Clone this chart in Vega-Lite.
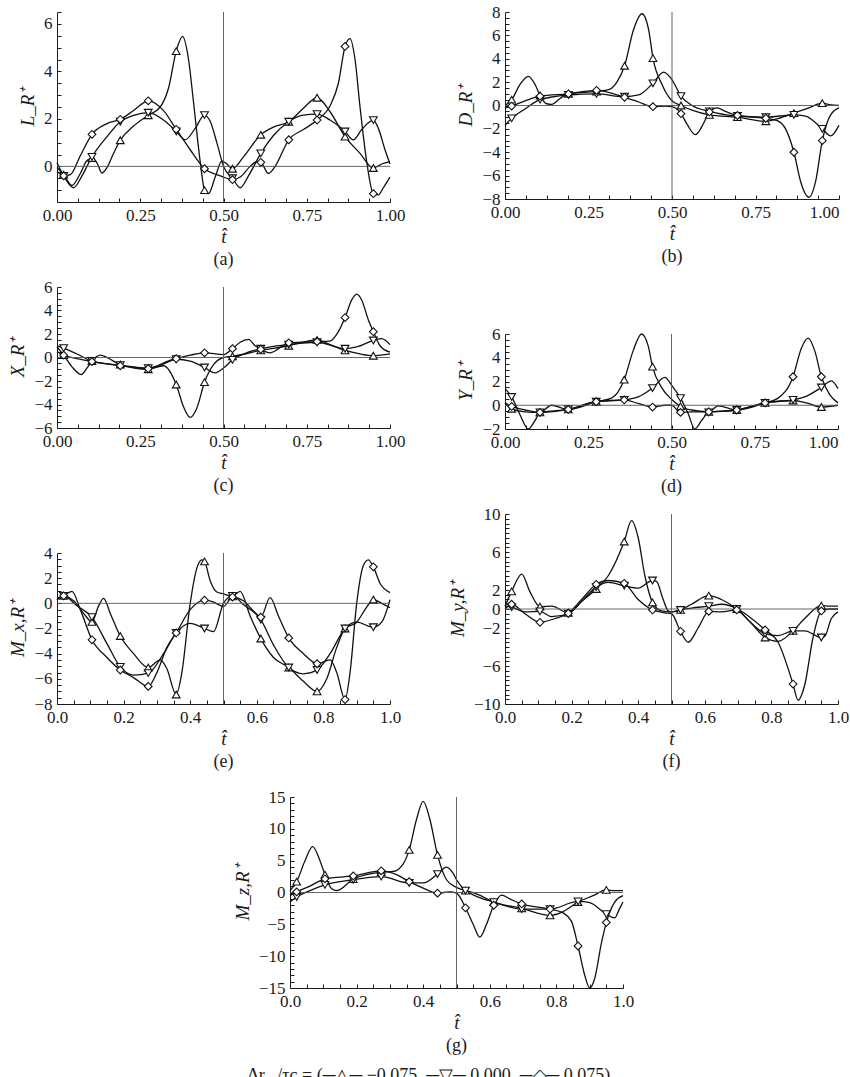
{
"$schema": "https://vega.github.io/schema/vega-lite/v6.json",
"padding": {"left": 8, "top": 3, "right": 0, "bottom": 0},
"columns": 2,
"bounds": "flush",
"spacing": {"row": 85, "column": 115},
"title": {"text": "Δr₁₂/τc = (─△─ −0.075, ─▽─ 0.000, ─◇─ 0.075)", "orient": "bottom", "anchor": "middle", "offset": 12, "fontSize": 18},
"datasets": {
"a": [
{"s":"m","t":0,"v":-0.05},{"s":"m","t":0.02,"v":-0.35,"k":1},{"s":"m","t":0.045,"v":-0.8},{"s":"m","t":0.07,"v":-0.3},{"s":"m","t":0.09,"v":0.25},{"s":"m","t":0.105,"v":0.35,"k":1},{"s":"m","t":0.12,"v":0.15},{"s":"m","t":0.135,"v":-0.28},{"s":"m","t":0.15,"v":-0.05},{"s":"m","t":0.17,"v":0.55},{"s":"m","t":0.19,"v":1.1,"k":1},{"s":"m","t":0.23,"v":1.7},{"s":"m","t":0.274,"v":2.15,"k":1},{"s":"m","t":0.31,"v":2.5},{"s":"m","t":0.335,"v":3.3},{"s":"m","t":0.358,"v":4.85,"k":1},{"s":"m","t":0.377,"v":5.47},{"s":"m","t":0.395,"v":4.5},{"s":"m","t":0.41,"v":2.7},{"s":"m","t":0.43,"v":0.2},{"s":"m","t":0.443,"v":-1.0,"k":1},{"s":"m","t":0.455,"v":-1.15},{"s":"m","t":0.475,"v":-0.45},{"s":"m","t":0.495,"v":0.22},{"s":"m","t":0.51,"v":0.1},{"s":"m","t":0.527,"v":-0.1,"k":1},{"s":"m","t":0.56,"v":0.4},{"s":"m","t":0.612,"v":1.33,"k":1},{"s":"m","t":0.65,"v":1.65},{"s":"m","t":0.696,"v":1.88,"k":1},{"s":"m","t":0.74,"v":2.45},{"s":"m","t":0.781,"v":2.89,"k":1},{"s":"m","t":0.82,"v":2.3},{"s":"m","t":0.865,"v":1.25,"k":1},{"s":"m","t":0.91,"v":0.55},{"s":"m","t":0.95,"v":-0.07,"k":1},{"s":"m","t":0.975,"v":0.1},{"s":"m","t":1,"v":0.2},
{"s":"z","t":0,"v":0.15},{"s":"z","t":0.02,"v":-0.4,"k":1},{"s":"z","t":0.05,"v":-0.9},{"s":"z","t":0.075,"v":-0.4},{"s":"z","t":0.105,"v":0.4,"k":1},{"s":"z","t":0.15,"v":1.25},{"s":"z","t":0.19,"v":1.88,"k":1},{"s":"z","t":0.23,"v":2.15},{"s":"z","t":0.274,"v":2.26,"k":1},{"s":"z","t":0.32,"v":1.95},{"s":"z","t":0.358,"v":1.47,"k":1},{"s":"z","t":0.385,"v":1.12},{"s":"z","t":0.415,"v":1.6},{"s":"z","t":0.443,"v":2.16,"k":1},{"s":"z","t":0.46,"v":1.9},{"s":"z","t":0.48,"v":1.0},{"s":"z","t":0.5,"v":0.0},{"s":"z","t":0.527,"v":-0.5,"k":1},{"s":"z","t":0.55,"v":-0.9},{"s":"z","t":0.575,"v":-0.4},{"s":"z","t":0.612,"v":0.55,"k":1},{"s":"z","t":0.65,"v":1.3},{"s":"z","t":0.696,"v":1.88,"k":1},{"s":"z","t":0.735,"v":2.15},{"s":"z","t":0.781,"v":2.2,"k":1},{"s":"z","t":0.82,"v":1.95},{"s":"z","t":0.865,"v":1.47,"k":1},{"s":"z","t":0.89,"v":1.12},{"s":"z","t":0.915,"v":1.55},{"s":"z","t":0.95,"v":1.95,"k":1},{"s":"z","t":0.965,"v":1.6},{"s":"z","t":0.985,"v":0.7},{"s":"z","t":1,"v":0.1},
{"s":"p","t":0,"v":-0.2},{"s":"p","t":0.02,"v":-0.4,"k":1},{"s":"p","t":0.04,"v":-0.35},{"s":"p","t":0.07,"v":0.45},{"s":"p","t":0.105,"v":1.35,"k":1},{"s":"p","t":0.15,"v":1.8},{"s":"p","t":0.19,"v":1.98,"k":1},{"s":"p","t":0.23,"v":2.35},{"s":"p","t":0.274,"v":2.76,"k":1},{"s":"p","t":0.32,"v":2.35},{"s":"p","t":0.358,"v":1.56,"k":1},{"s":"p","t":0.4,"v":0.7},{"s":"p","t":0.443,"v":-0.1,"k":1},{"s":"p","t":0.48,"v":-0.35},{"s":"p","t":0.5,"v":-0.45},{"s":"p","t":0.527,"v":-0.56,"k":1},{"s":"p","t":0.55,"v":-0.45},{"s":"p","t":0.58,"v":0.0},{"s":"p","t":0.6,"v":0.2},{"s":"p","t":0.612,"v":0.17,"k":1},{"s":"p","t":0.635,"v":-0.3},{"s":"p","t":0.655,"v":0.0},{"s":"p","t":0.696,"v":1.12,"k":1},{"s":"p","t":0.74,"v":1.55},{"s":"p","t":0.781,"v":1.95,"k":1},{"s":"p","t":0.82,"v":2.55},{"s":"p","t":0.845,"v":3.5},{"s":"p","t":0.865,"v":5.05,"k":1},{"s":"p","t":0.88,"v":5.38},{"s":"p","t":0.895,"v":4.5},{"s":"p","t":0.91,"v":2.5},{"s":"p","t":0.93,"v":0.2},{"s":"p","t":0.95,"v":-1.15,"k":1},{"s":"p","t":0.965,"v":-1.2},{"s":"p","t":0.98,"v":-0.9},{"s":"p","t":1,"v":-0.45}
],
"b": [
{"s":"m","t":0,"v":0.0},{"s":"m","t":0.02,"v":0.5,"k":1},{"s":"m","t":0.045,"v":1.8},{"s":"m","t":0.07,"v":2.5},{"s":"m","t":0.09,"v":1.8},{"s":"m","t":0.105,"v":0.85,"k":1},{"s":"m","t":0.125,"v":0.15},{"s":"m","t":0.14,"v":0.1},{"s":"m","t":0.165,"v":0.6},{"s":"m","t":0.19,"v":1.0,"k":1},{"s":"m","t":0.274,"v":1.2,"k":1},{"s":"m","t":0.31,"v":1.35},{"s":"m","t":0.335,"v":2.0},{"s":"m","t":0.358,"v":3.4,"k":1},{"s":"m","t":0.385,"v":6.5},{"s":"m","t":0.41,"v":7.85},{"s":"m","t":0.43,"v":6.5},{"s":"m","t":0.443,"v":4.05,"k":1},{"s":"m","t":0.47,"v":1.8},{"s":"m","t":0.5,"v":0.4},{"s":"m","t":0.527,"v":0.0,"k":1},{"s":"m","t":0.56,"v":-0.4},{"s":"m","t":0.612,"v":-0.8,"k":1},{"s":"m","t":0.696,"v":-1.0,"k":1},{"s":"m","t":0.781,"v":-1.35,"k":1},{"s":"m","t":0.82,"v":-1.1},{"s":"m","t":0.865,"v":-0.65,"k":1},{"s":"m","t":0.91,"v":-0.2},{"s":"m","t":0.95,"v":0.2,"k":1},{"s":"m","t":0.975,"v":0.05},{"s":"m","t":1,"v":0.0},
{"s":"z","t":0,"v":-1.7},{"s":"z","t":0.02,"v":-1.1,"k":1},{"s":"z","t":0.06,"v":-0.3},{"s":"z","t":0.105,"v":0.5,"k":1},{"s":"z","t":0.19,"v":0.9,"k":1},{"s":"z","t":0.274,"v":1.0,"k":1},{"s":"z","t":0.358,"v":0.75,"k":1},{"s":"z","t":0.4,"v":0.9},{"s":"z","t":0.443,"v":1.9,"k":1},{"s":"z","t":0.475,"v":2.85},{"s":"z","t":0.5,"v":2.2},{"s":"z","t":0.527,"v":0.8,"k":1},{"s":"z","t":0.56,"v":0.0},{"s":"z","t":0.612,"v":-0.5,"k":1},{"s":"z","t":0.696,"v":-0.9,"k":1},{"s":"z","t":0.781,"v":-1.0,"k":1},{"s":"z","t":0.865,"v":-0.8,"k":1},{"s":"z","t":0.9,"v":-0.9},{"s":"z","t":0.95,"v":-2.0,"k":1},{"s":"z","t":0.975,"v":-2.6},{"s":"z","t":1,"v":-1.7},
{"s":"p","t":0,"v":-0.2},{"s":"p","t":0.02,"v":-0.05,"k":1},{"s":"p","t":0.06,"v":0.4},{"s":"p","t":0.105,"v":0.8,"k":1},{"s":"p","t":0.19,"v":1.0,"k":1},{"s":"p","t":0.274,"v":1.3,"k":1},{"s":"p","t":0.358,"v":0.7,"k":1},{"s":"p","t":0.4,"v":0.3},{"s":"p","t":0.443,"v":-0.1,"k":1},{"s":"p","t":0.48,"v":-0.05},{"s":"p","t":0.5,"v":-0.1},{"s":"p","t":0.527,"v":-0.7,"k":1},{"s":"p","t":0.545,"v":-1.6},{"s":"p","t":0.57,"v":-2.5},{"s":"p","t":0.595,"v":-1.5},{"s":"p","t":0.612,"v":-0.55,"k":1},{"s":"p","t":0.635,"v":-0.2},{"s":"p","t":0.66,"v":-0.5},{"s":"p","t":0.696,"v":-0.85,"k":1},{"s":"p","t":0.781,"v":-1.1,"k":1},{"s":"p","t":0.815,"v":-1.3},{"s":"p","t":0.84,"v":-2.0},{"s":"p","t":0.865,"v":-4.0,"k":1},{"s":"p","t":0.885,"v":-6.5},{"s":"p","t":0.91,"v":-7.85},{"s":"p","t":0.93,"v":-6.5},{"s":"p","t":0.95,"v":-3.0,"k":1},{"s":"p","t":0.975,"v":-0.8},{"s":"p","t":1,"v":-0.2}
],
"c": [
{"s":"m","t":0,"v":0.9},{"s":"m","t":0.02,"v":0.2,"k":1},{"s":"m","t":0.045,"v":-0.8},{"s":"m","t":0.073,"v":-1.45},{"s":"m","t":0.09,"v":-0.9},{"s":"m","t":0.105,"v":-0.3,"k":1},{"s":"m","t":0.13,"v":0.2},{"s":"m","t":0.15,"v":0.0},{"s":"m","t":0.19,"v":-0.6,"k":1},{"s":"m","t":0.274,"v":-1.0,"k":1},{"s":"m","t":0.32,"v":-0.7},{"s":"m","t":0.358,"v":-2.3,"k":1},{"s":"m","t":0.38,"v":-4.2},{"s":"m","t":0.4,"v":-5.1},{"s":"m","t":0.42,"v":-4.3},{"s":"m","t":0.443,"v":-2.1,"k":1},{"s":"m","t":0.47,"v":-0.6},{"s":"m","t":0.5,"v":0.0},{"s":"m","t":0.527,"v":0.1,"k":1},{"s":"m","t":0.612,"v":0.6,"k":1},{"s":"m","t":0.696,"v":1.0,"k":1},{"s":"m","t":0.781,"v":1.5,"k":1},{"s":"m","t":0.82,"v":1.1},{"s":"m","t":0.865,"v":0.6,"k":1},{"s":"m","t":0.91,"v":0.3},{"s":"m","t":0.95,"v":0.15,"k":1},{"s":"m","t":1,"v":0.3},
{"s":"z","t":0,"v":1.0},{"s":"z","t":0.02,"v":0.8,"k":1},{"s":"z","t":0.06,"v":0.3},{"s":"z","t":0.105,"v":-0.3,"k":1},{"s":"z","t":0.19,"v":-0.65,"k":1},{"s":"z","t":0.274,"v":-0.9,"k":1},{"s":"z","t":0.358,"v":-0.15,"k":1},{"s":"z","t":0.4,"v":-0.3},{"s":"z","t":0.443,"v":-0.85,"k":1},{"s":"z","t":0.475,"v":-1.3},{"s":"z","t":0.5,"v":-0.9},{"s":"z","t":0.527,"v":-0.2,"k":1},{"s":"z","t":0.56,"v":0.3},{"s":"z","t":0.612,"v":0.75,"k":1},{"s":"z","t":0.696,"v":1.1,"k":1},{"s":"z","t":0.781,"v":1.3,"k":1},{"s":"z","t":0.865,"v":0.75,"k":1},{"s":"z","t":0.9,"v":0.9},{"s":"z","t":0.95,"v":1.45,"k":1},{"s":"z","t":0.975,"v":1.6},{"s":"z","t":1,"v":1.1},
{"s":"p","t":0,"v":0.5},{"s":"p","t":0.02,"v":0.2,"k":1},{"s":"p","t":0.06,"v":-0.1},{"s":"p","t":0.105,"v":-0.35,"k":1},{"s":"p","t":0.19,"v":-0.7,"k":1},{"s":"p","t":0.274,"v":-0.95,"k":1},{"s":"p","t":0.358,"v":-0.1,"k":1},{"s":"p","t":0.4,"v":0.2},{"s":"p","t":0.443,"v":0.4,"k":1},{"s":"p","t":0.5,"v":0.25},{"s":"p","t":0.527,"v":0.75,"k":1},{"s":"p","t":0.55,"v":1.3},{"s":"p","t":0.575,"v":1.55},{"s":"p","t":0.595,"v":1.0},{"s":"p","t":0.612,"v":0.7,"k":1},{"s":"p","t":0.64,"v":0.4},{"s":"p","t":0.696,"v":1.25,"k":1},{"s":"p","t":0.781,"v":1.35,"k":1},{"s":"p","t":0.82,"v":1.4},{"s":"p","t":0.845,"v":2.2},{"s":"p","t":0.865,"v":3.4,"k":1},{"s":"p","t":0.885,"v":4.9},{"s":"p","t":0.9,"v":5.4},{"s":"p","t":0.915,"v":4.9},{"s":"p","t":0.935,"v":3.2},{"s":"p","t":0.95,"v":2.2,"k":1},{"s":"p","t":0.97,"v":1.0},{"s":"p","t":1,"v":0.45}
],
"d": [
{"s":"m","t":0,"v":0.2},{"s":"m","t":0.02,"v":-0.3,"k":1},{"s":"m","t":0.06,"v":-0.55},{"s":"m","t":0.105,"v":-0.6,"k":1},{"s":"m","t":0.14,"v":0.0},{"s":"m","t":0.19,"v":-0.35,"k":1},{"s":"m","t":0.274,"v":0.3,"k":1},{"s":"m","t":0.32,"v":0.6},{"s":"m","t":0.358,"v":2.15,"k":1},{"s":"m","t":0.385,"v":4.6},{"s":"m","t":0.41,"v":6.0},{"s":"m","t":0.43,"v":5.0},{"s":"m","t":0.443,"v":3.25,"k":1},{"s":"m","t":0.47,"v":1.5},{"s":"m","t":0.5,"v":0.5},{"s":"m","t":0.527,"v":-0.1,"k":1},{"s":"m","t":0.56,"v":-0.4},{"s":"m","t":0.612,"v":-0.55,"k":1},{"s":"m","t":0.696,"v":-0.4,"k":1},{"s":"m","t":0.781,"v":0.2,"k":1},{"s":"m","t":0.865,"v":0.4,"k":1},{"s":"m","t":0.91,"v":0.15},{"s":"m","t":0.95,"v":-0.15,"k":1},{"s":"m","t":1,"v":0.0},
{"s":"z","t":0,"v":1.4},{"s":"z","t":0.02,"v":0.7,"k":1},{"s":"z","t":0.045,"v":-0.8},{"s":"z","t":0.07,"v":-2.0},{"s":"z","t":0.09,"v":-1.3},{"s":"z","t":0.105,"v":-0.6,"k":1},{"s":"z","t":0.19,"v":-0.35,"k":1},{"s":"z","t":0.274,"v":0.3,"k":1},{"s":"z","t":0.358,"v":0.45,"k":1},{"s":"z","t":0.4,"v":0.7},{"s":"z","t":0.443,"v":1.45,"k":1},{"s":"z","t":0.48,"v":2.35},{"s":"z","t":0.5,"v":1.7},{"s":"z","t":0.527,"v":0.6,"k":1},{"s":"z","t":0.55,"v":-0.7},{"s":"z","t":0.57,"v":-2.0},{"s":"z","t":0.59,"v":-1.3},{"s":"z","t":0.612,"v":-0.6,"k":1},{"s":"z","t":0.696,"v":-0.4,"k":1},{"s":"z","t":0.781,"v":0.2,"k":1},{"s":"z","t":0.865,"v":0.45,"k":1},{"s":"z","t":0.9,"v":0.7},{"s":"z","t":0.95,"v":1.5,"k":1},{"s":"z","t":0.98,"v":2.05},{"s":"z","t":1,"v":1.4},
{"s":"p","t":0,"v":0.2},{"s":"p","t":0.02,"v":-0.1,"k":1},{"s":"p","t":0.06,"v":-0.4},{"s":"p","t":0.105,"v":-0.6,"k":1},{"s":"p","t":0.19,"v":-0.35,"k":1},{"s":"p","t":0.274,"v":0.3,"k":1},{"s":"p","t":0.358,"v":0.45,"k":1},{"s":"p","t":0.4,"v":0.15},{"s":"p","t":0.443,"v":-0.15,"k":1},{"s":"p","t":0.48,"v":0.0},{"s":"p","t":0.5,"v":0.0},{"s":"p","t":0.527,"v":-0.6,"k":1},{"s":"p","t":0.56,"v":-0.55},{"s":"p","t":0.612,"v":-0.55,"k":1},{"s":"p","t":0.64,"v":-0.05},{"s":"p","t":0.696,"v":-0.4,"k":1},{"s":"p","t":0.781,"v":0.2,"k":1},{"s":"p","t":0.82,"v":0.6},{"s":"p","t":0.865,"v":2.4,"k":1},{"s":"p","t":0.89,"v":4.8},{"s":"p","t":0.91,"v":5.65},{"s":"p","t":0.93,"v":4.6},{"s":"p","t":0.95,"v":2.4,"k":1},{"s":"p","t":0.975,"v":0.9},{"s":"p","t":1,"v":0.2}
],
"e": [
{"s":"m","t":0,"v":0.3},{"s":"m","t":0.02,"v":0.6,"k":1},{"s":"m","t":0.05,"v":0.2},{"s":"m","t":0.08,"v":-0.8},{"s":"m","t":0.105,"v":-1.47,"k":1},{"s":"m","t":0.125,"v":-0.2},{"s":"m","t":0.14,"v":0.4},{"s":"m","t":0.16,"v":-0.8},{"s":"m","t":0.19,"v":-2.6,"k":1},{"s":"m","t":0.23,"v":-4.0},{"s":"m","t":0.274,"v":-5.1,"k":1},{"s":"m","t":0.31,"v":-4.5},{"s":"m","t":0.33,"v":-5.2},{"s":"m","t":0.358,"v":-7.25,"k":1},{"s":"m","t":0.375,"v":-5.5},{"s":"m","t":0.4,"v":0.0},{"s":"m","t":0.42,"v":2.8},{"s":"m","t":0.435,"v":3.45},{"s":"m","t":0.443,"v":3.33,"k":1},{"s":"m","t":0.46,"v":1.8},{"s":"m","t":0.48,"v":0.9},{"s":"m","t":0.5,"v":0.75},{"s":"m","t":0.527,"v":0.55,"k":1},{"s":"m","t":0.55,"v":0.95},{"s":"m","t":0.58,"v":-1.0},{"s":"m","t":0.612,"v":-2.8,"k":1},{"s":"m","t":0.65,"v":-4.3},{"s":"m","t":0.696,"v":-5.1,"k":1},{"s":"m","t":0.74,"v":-6.2},{"s":"m","t":0.781,"v":-7.0,"k":1},{"s":"m","t":0.81,"v":-6.0},{"s":"m","t":0.84,"v":-3.5},{"s":"m","t":0.865,"v":-2.0,"k":1},{"s":"m","t":0.9,"v":-1.5},{"s":"m","t":0.93,"v":-0.3},{"s":"m","t":0.95,"v":0.3,"k":1},{"s":"m","t":0.975,"v":0.0},{"s":"m","t":1,"v":-0.35},
{"s":"z","t":0,"v":0.3},{"s":"z","t":0.02,"v":0.6,"k":1},{"s":"z","t":0.06,"v":-0.2},{"s":"z","t":0.105,"v":-1.1,"k":1},{"s":"z","t":0.15,"v":-3.2},{"s":"z","t":0.19,"v":-5.05,"k":1},{"s":"z","t":0.23,"v":-5.7},{"s":"z","t":0.274,"v":-5.55,"k":1},{"s":"z","t":0.32,"v":-4.0},{"s":"z","t":0.358,"v":-2.35,"k":1},{"s":"z","t":0.4,"v":-1.6},{"s":"z","t":0.443,"v":-2.0,"k":1},{"s":"z","t":0.47,"v":-2.25},{"s":"z","t":0.5,"v":0.0},{"s":"z","t":0.527,"v":0.6,"k":1},{"s":"z","t":0.56,"v":-0.1},{"s":"z","t":0.612,"v":-1.3,"k":1},{"s":"z","t":0.65,"v":-3.3},{"s":"z","t":0.696,"v":-5.1,"k":1},{"s":"z","t":0.74,"v":-5.6},{"s":"z","t":0.781,"v":-5.3,"k":1},{"s":"z","t":0.82,"v":-4.0},{"s":"z","t":0.865,"v":-2.0,"k":1},{"s":"z","t":0.9,"v":-1.5},{"s":"z","t":0.95,"v":-1.9,"k":1},{"s":"z","t":0.975,"v":-1.5},{"s":"z","t":1,"v":0.3},
{"s":"p","t":0,"v":0.3},{"s":"p","t":0.02,"v":0.6,"k":1},{"s":"p","t":0.045,"v":0.95},{"s":"p","t":0.07,"v":-0.5},{"s":"p","t":0.105,"v":-2.9,"k":1},{"s":"p","t":0.15,"v":-4.3},{"s":"p","t":0.19,"v":-5.3,"k":1},{"s":"p","t":0.23,"v":-5.9},{"s":"p","t":0.274,"v":-6.6,"k":1},{"s":"p","t":0.3,"v":-5.5},{"s":"p","t":0.33,"v":-3.5},{"s":"p","t":0.358,"v":-2.35,"k":1},{"s":"p","t":0.4,"v":-0.5},{"s":"p","t":0.443,"v":0.25,"k":1},{"s":"p","t":0.47,"v":0.1},{"s":"p","t":0.5,"v":-0.25},{"s":"p","t":0.527,"v":0.5,"k":1},{"s":"p","t":0.56,"v":0.2},{"s":"p","t":0.59,"v":-0.6},{"s":"p","t":0.612,"v":-1.1,"k":1},{"s":"p","t":0.64,"v":0.45},{"s":"p","t":0.665,"v":-1.0},{"s":"p","t":0.696,"v":-2.75,"k":1},{"s":"p","t":0.74,"v":-4.0},{"s":"p","t":0.781,"v":-4.8,"k":1},{"s":"p","t":0.82,"v":-4.5},{"s":"p","t":0.84,"v":-5.5},{"s":"p","t":0.865,"v":-7.65,"k":1},{"s":"p","t":0.88,"v":-5.5},{"s":"p","t":0.9,"v":0.0},{"s":"p","t":0.92,"v":3.0},{"s":"p","t":0.935,"v":3.45},{"s":"p","t":0.95,"v":2.9,"k":1},{"s":"p","t":0.97,"v":1.6},{"s":"p","t":1,"v":0.85}
],
"f": [
{"s":"m","t":0,"v":0.3},{"s":"m","t":0.02,"v":1.85,"k":1},{"s":"m","t":0.05,"v":3.67},{"s":"m","t":0.075,"v":1.8},{"s":"m","t":0.105,"v":0.25,"k":1},{"s":"m","t":0.14,"v":0.3},{"s":"m","t":0.19,"v":-0.4,"k":1},{"s":"m","t":0.23,"v":0.8},{"s":"m","t":0.274,"v":2.1,"k":1},{"s":"m","t":0.31,"v":3.5},{"s":"m","t":0.358,"v":7.1,"k":1},{"s":"m","t":0.38,"v":9.3},{"s":"m","t":0.4,"v":7.5},{"s":"m","t":0.42,"v":3.5},{"s":"m","t":0.443,"v":0.7,"k":1},{"s":"m","t":0.47,"v":-0.2},{"s":"m","t":0.5,"v":-0.3},{"s":"m","t":0.527,"v":-0.1,"k":1},{"s":"m","t":0.56,"v":0.5},{"s":"m","t":0.612,"v":1.4,"k":1},{"s":"m","t":0.65,"v":1.0},{"s":"m","t":0.696,"v":0.0,"k":1},{"s":"m","t":0.74,"v":-1.5},{"s":"m","t":0.781,"v":-3.0,"k":1},{"s":"m","t":0.82,"v":-3.4},{"s":"m","t":0.865,"v":-2.3,"k":1},{"s":"m","t":0.9,"v":-1.0},{"s":"m","t":0.95,"v":0.35,"k":1},{"s":"m","t":0.975,"v":0.3},{"s":"m","t":1,"v":0.3},
{"s":"z","t":0,"v":0.3},{"s":"z","t":0.02,"v":0.2,"k":1},{"s":"z","t":0.06,"v":-0.3},{"s":"z","t":0.105,"v":-0.25,"k":1},{"s":"z","t":0.14,"v":-0.8},{"s":"z","t":0.19,"v":-0.5,"k":1},{"s":"z","t":0.23,"v":0.8},{"s":"z","t":0.274,"v":2.3,"k":1},{"s":"z","t":0.31,"v":2.8},{"s":"z","t":0.358,"v":2.45,"k":1},{"s":"z","t":0.4,"v":2.2},{"s":"z","t":0.443,"v":3.0,"k":1},{"s":"z","t":0.455,"v":2.9},{"s":"z","t":0.475,"v":1.0},{"s":"z","t":0.49,"v":-0.2},{"s":"z","t":0.5,"v":-0.3},{"s":"z","t":0.527,"v":-0.1,"k":1},{"s":"z","t":0.56,"v":0.1},{"s":"z","t":0.612,"v":0.3,"k":1},{"s":"z","t":0.65,"v":0.5},{"s":"z","t":0.696,"v":0.0,"k":1},{"s":"z","t":0.74,"v":-1.5},{"s":"z","t":0.781,"v":-2.6,"k":1},{"s":"z","t":0.82,"v":-2.8},{"s":"z","t":0.865,"v":-2.3,"k":1},{"s":"z","t":0.9,"v":-2.3},{"s":"z","t":0.95,"v":-3.0,"k":1},{"s":"z","t":0.96,"v":-2.9},{"s":"z","t":0.98,"v":-1.0},{"s":"z","t":1,"v":-0.3},
{"s":"p","t":0,"v":0.0},{"s":"p","t":0.02,"v":0.5,"k":1},{"s":"p","t":0.06,"v":-0.5},{"s":"p","t":0.105,"v":-1.4,"k":1},{"s":"p","t":0.15,"v":-1.0},{"s":"p","t":0.19,"v":-0.45,"k":1},{"s":"p","t":0.23,"v":1.0},{"s":"p","t":0.274,"v":2.6,"k":1},{"s":"p","t":0.31,"v":3.0},{"s":"p","t":0.358,"v":2.7,"k":1},{"s":"p","t":0.4,"v":1.0},{"s":"p","t":0.443,"v":-0.1,"k":1},{"s":"p","t":0.48,"v":-0.4},{"s":"p","t":0.5,"v":-0.5},{"s":"p","t":0.527,"v":-2.35,"k":1},{"s":"p","t":0.55,"v":-3.5},{"s":"p","t":0.58,"v":-2.0},{"s":"p","t":0.612,"v":-0.25,"k":1},{"s":"p","t":0.65,"v":-0.3},{"s":"p","t":0.696,"v":-0.1,"k":1},{"s":"p","t":0.74,"v":-1.0},{"s":"p","t":0.781,"v":-2.2,"k":1},{"s":"p","t":0.82,"v":-3.5},{"s":"p","t":0.865,"v":-7.9,"k":1},{"s":"p","t":0.88,"v":-9.6},{"s":"p","t":0.9,"v":-8.0},{"s":"p","t":0.925,"v":-3.0},{"s":"p","t":0.95,"v":-0.2,"k":1},{"s":"p","t":0.975,"v":0.0},{"s":"p","t":1,"v":0.0}
],
"g": [
{"s":"m","t":0,"v":0.3},{"s":"m","t":0.02,"v":1.7,"k":1},{"s":"m","t":0.045,"v":5.0},{"s":"m","t":0.068,"v":7.2},{"s":"m","t":0.09,"v":5.0},{"s":"m","t":0.105,"v":2.8,"k":1},{"s":"m","t":0.125,"v":0.6},{"s":"m","t":0.14,"v":0.3},{"s":"m","t":0.19,"v":2.1,"k":1},{"s":"m","t":0.274,"v":3.2,"k":1},{"s":"m","t":0.31,"v":3.3},{"s":"m","t":0.34,"v":4.5},{"s":"m","t":0.358,"v":6.7,"k":1},{"s":"m","t":0.38,"v":11.5},{"s":"m","t":0.4,"v":14.3},{"s":"m","t":0.42,"v":11.5},{"s":"m","t":0.443,"v":5.9,"k":1},{"s":"m","t":0.47,"v":2.0},{"s":"m","t":0.5,"v":0.8},{"s":"m","t":0.527,"v":0.3,"k":1},{"s":"m","t":0.56,"v":-0.2},{"s":"m","t":0.612,"v":-1.5,"k":1},{"s":"m","t":0.696,"v":-2.5,"k":1},{"s":"m","t":0.781,"v":-3.6,"k":1},{"s":"m","t":0.82,"v":-3.0},{"s":"m","t":0.865,"v":-1.5,"k":1},{"s":"m","t":0.91,"v":-0.5},{"s":"m","t":0.95,"v":0.4,"k":1},{"s":"m","t":0.975,"v":0.3},{"s":"m","t":1,"v":0.3},
{"s":"z","t":0,"v":-1.5},{"s":"z","t":0.02,"v":-0.7,"k":1},{"s":"z","t":0.06,"v":0.3},{"s":"z","t":0.105,"v":1.2,"k":1},{"s":"z","t":0.19,"v":2.0,"k":1},{"s":"z","t":0.274,"v":2.5,"k":1},{"s":"z","t":0.358,"v":1.5,"k":1},{"s":"z","t":0.4,"v":1.5},{"s":"z","t":0.443,"v":2.9,"k":1},{"s":"z","t":0.47,"v":4.0},{"s":"z","t":0.49,"v":3.0},{"s":"z","t":0.5,"v":2.0},{"s":"z","t":0.527,"v":0.3,"k":1},{"s":"z","t":0.56,"v":-0.6},{"s":"z","t":0.612,"v":-1.5,"k":1},{"s":"z","t":0.696,"v":-2.6,"k":1},{"s":"z","t":0.781,"v":-2.6,"k":1},{"s":"z","t":0.865,"v":-1.4,"k":1},{"s":"z","t":0.9,"v":-1.6},{"s":"z","t":0.95,"v":-3.4,"k":1},{"s":"z","t":0.975,"v":-4.0},{"s":"z","t":0.99,"v":-2.5},{"s":"z","t":1,"v":-1.5},
{"s":"p","t":0,"v":-0.5},{"s":"p","t":0.02,"v":0.1,"k":1},{"s":"p","t":0.06,"v":1.0},{"s":"p","t":0.105,"v":2.15,"k":1},{"s":"p","t":0.19,"v":2.6,"k":1},{"s":"p","t":0.274,"v":3.4,"k":1},{"s":"p","t":0.32,"v":2.8},{"s":"p","t":0.358,"v":1.7,"k":1},{"s":"p","t":0.4,"v":0.7},{"s":"p","t":0.443,"v":-0.1,"k":1},{"s":"p","t":0.48,"v":0.1},{"s":"p","t":0.5,"v":-0.1},{"s":"p","t":0.527,"v":-2.4,"k":1},{"s":"p","t":0.55,"v":-5.0},{"s":"p","t":0.57,"v":-7.0},{"s":"p","t":0.59,"v":-5.0},{"s":"p","t":0.612,"v":-2.0,"k":1},{"s":"p","t":0.635,"v":-0.4},{"s":"p","t":0.66,"v":-1.0},{"s":"p","t":0.696,"v":-1.8,"k":1},{"s":"p","t":0.781,"v":-2.6,"k":1},{"s":"p","t":0.82,"v":-3.2},{"s":"p","t":0.845,"v":-4.5},{"s":"p","t":0.865,"v":-8.4,"k":1},{"s":"p","t":0.885,"v":-13.0},{"s":"p","t":0.9,"v":-15.0},{"s":"p","t":0.915,"v":-13.5},{"s":"p","t":0.935,"v":-8.0},{"s":"p","t":0.95,"v":-4.7,"k":1},{"s":"p","t":0.975,"v":-1.5},{"s":"p","t":1,"v":-0.5}
]
},
"concat": [
{"width": 333, "height": 190, "data": {"name": "a"}, "title": {"text": "(a)", "orient": "bottom"},
 "layer": [
  {"mark": {"type": "line", "interpolate": "monotone", "color": "#111", "strokeWidth": 1.3},
   "encoding": {"x": {"field": "t", "type": "quantitative", "scale": {"domain": [0, 1], "nice": false}, "axis": {"title": "t̂", "tickCount": 200, "values": [0,0.0625,0.125,0.1875,0.25,0.3125,0.375,0.4375,0.5,0.5625,0.625,0.6875,0.75,0.8125,0.875,0.9375,1], "labelExpr": "datum.value % 0.25 == 0 ? format(datum.value, '.2f') : ''"}},
    "y": {"field": "v", "type": "quantitative", "scale": {"domain": [-1.5, 6.5], "nice": false, "zero": false}, "axis": {"title": "L_R⁺", "tickCount": 200, "values": [-1.5,-1,-0.5,0,0.5,1,1.5,2,2.5,3,3.5,4,4.5,5,5.5,6,6.5], "labelExpr": "datum.value % 2 == 0 ? format(datum.value, 'd') : ''"}},
    "detail": {"field": "s"}}},
  {"data": {"values": [{}]}, "mark": {"type": "rule", "color": "#555", "strokeWidth": 0.9}, "encoding": {"y": {"datum": 0, "type": "quantitative"}, "x": {"datum": 0, "type": "quantitative"}, "x2": {"datum": 1}}},
  {"data": {"values": [{}]}, "mark": {"type": "rule", "color": "#555", "strokeWidth": 0.9}, "encoding": {"x": {"datum": 0.5, "type": "quantitative"}, "y": {"datum": 6.5, "type": "quantitative"}, "y2": {"datum": -1.5}}},
  {"transform": [{"filter": "datum.k == 1"}], "mark": {"type": "point", "size": 60, "filled": true, "fill": "white", "stroke": "#111", "strokeWidth": 1.1, "opacity": 1},
   "encoding": {"x": {"field": "t", "type": "quantitative"}, "y": {"field": "v", "type": "quantitative"},
    "shape": {"field": "s", "type": "nominal", "scale": {"domain": ["m", "z", "p"], "range": ["triangle-up", "triangle-down", "diamond"]}, "legend": null}}}
 ]},
{"width": 334, "height": 187, "data": {"name": "b"}, "title": {"text": "(b)", "orient": "bottom"},
 "layer": [
  {"mark": {"type": "line", "interpolate": "monotone", "color": "#111", "strokeWidth": 1.3},
   "encoding": {"x": {"field": "t", "type": "quantitative", "scale": {"domain": [0, 1], "nice": false}, "axis": {"title": "t̂", "tickCount": 200, "labelAlign": {"condition": {"test": "datum.value == 1", "value": "right"}, "value": "center"}, "values": [0,0.0625,0.125,0.1875,0.25,0.3125,0.375,0.4375,0.5,0.5625,0.625,0.6875,0.75,0.8125,0.875,0.9375,1], "labelExpr": "datum.value % 0.25 == 0 ? format(datum.value, '.2f') : ''"}},
    "y": {"field": "v", "type": "quantitative", "scale": {"domain": [-8, 8], "nice": false, "zero": false}, "axis": {"title": "D_R⁺", "tickCount": 200, "values": [-8,-7.5,-7,-6.5,-6,-5.5,-5,-4.5,-4,-3.5,-3,-2.5,-2,-1.5,-1,-0.5,0,0.5,1,1.5,2,2.5,3,3.5,4,4.5,5,5.5,6,6.5,7,7.5,8], "labelExpr": "datum.value % 2 == 0 ? format(datum.value, 'd') : ''"}},
    "detail": {"field": "s"}}},
  {"data": {"values": [{}]}, "mark": {"type": "rule", "color": "#555", "strokeWidth": 0.9}, "encoding": {"y": {"datum": 0, "type": "quantitative"}, "x": {"datum": 0, "type": "quantitative"}, "x2": {"datum": 1}}},
  {"data": {"values": [{}]}, "mark": {"type": "rule", "color": "#555", "strokeWidth": 0.9}, "encoding": {"x": {"datum": 0.5, "type": "quantitative"}, "y": {"datum": 8, "type": "quantitative"}, "y2": {"datum": -8}}},
  {"transform": [{"filter": "datum.k == 1"}], "mark": {"type": "point", "size": 60, "filled": true, "fill": "white", "stroke": "#111", "strokeWidth": 1.1, "opacity": 1},
   "encoding": {"x": {"field": "t", "type": "quantitative"}, "y": {"field": "v", "type": "quantitative"},
    "shape": {"field": "s", "type": "nominal", "scale": {"domain": ["m", "z", "p"], "range": ["triangle-up", "triangle-down", "diamond"]}, "legend": null}}}
 ]},
{"width": 333, "height": 141, "data": {"name": "c"}, "title": {"text": "(c)", "orient": "bottom"},
 "layer": [
  {"mark": {"type": "line", "interpolate": "monotone", "color": "#111", "strokeWidth": 1.3},
   "encoding": {"x": {"field": "t", "type": "quantitative", "scale": {"domain": [0, 1], "nice": false}, "axis": {"title": "t̂", "tickCount": 200, "values": [0,0.0625,0.125,0.1875,0.25,0.3125,0.375,0.4375,0.5,0.5625,0.625,0.6875,0.75,0.8125,0.875,0.9375,1], "labelExpr": "datum.value % 0.25 == 0 ? format(datum.value, '.2f') : ''"}},
    "y": {"field": "v", "type": "quantitative", "scale": {"domain": [-6, 6], "nice": false, "zero": false}, "axis": {"title": "X_R⁺", "tickCount": 200, "values": [-6,-5.5,-5,-4.5,-4,-3.5,-3,-2.5,-2,-1.5,-1,-0.5,0,0.5,1,1.5,2,2.5,3,3.5,4,4.5,5,5.5,6], "labelExpr": "datum.value % 2 == 0 ? format(datum.value, 'd') : ''"}},
    "detail": {"field": "s"}}},
  {"data": {"values": [{}]}, "mark": {"type": "rule", "color": "#555", "strokeWidth": 0.9}, "encoding": {"y": {"datum": 0, "type": "quantitative"}, "x": {"datum": 0, "type": "quantitative"}, "x2": {"datum": 1}}},
  {"data": {"values": [{}]}, "mark": {"type": "rule", "color": "#555", "strokeWidth": 0.9}, "encoding": {"x": {"datum": 0.5, "type": "quantitative"}, "y": {"datum": 6, "type": "quantitative"}, "y2": {"datum": -6}}},
  {"transform": [{"filter": "datum.k == 1"}], "mark": {"type": "point", "size": 60, "filled": true, "fill": "white", "stroke": "#111", "strokeWidth": 1.1, "opacity": 1},
   "encoding": {"x": {"field": "t", "type": "quantitative"}, "y": {"field": "v", "type": "quantitative"},
    "shape": {"field": "s", "type": "nominal", "scale": {"domain": ["m", "z", "p"], "range": ["triangle-up", "triangle-down", "diamond"]}, "legend": null}}}
 ]},
{"width": 333, "height": 142, "data": {"name": "d"}, "title": {"text": "(d)", "orient": "bottom"},
 "layer": [
  {"mark": {"type": "line", "interpolate": "monotone", "color": "#111", "strokeWidth": 1.3},
   "encoding": {"x": {"field": "t", "type": "quantitative", "scale": {"domain": [0, 1], "nice": false}, "axis": {"title": "t̂", "tickCount": 200, "labelAlign": {"condition": {"test": "datum.value == 1", "value": "right"}, "value": "center"}, "values": [0,0.0625,0.125,0.1875,0.25,0.3125,0.375,0.4375,0.5,0.5625,0.625,0.6875,0.75,0.8125,0.875,0.9375,1], "labelExpr": "datum.value % 0.25 == 0 ? format(datum.value, '.2f') : ''"}},
    "y": {"field": "v", "type": "quantitative", "scale": {"domain": [-2, 6], "range": [142, 47], "nice": false, "zero": false}, "axis": {"title": "Y_R⁺", "tickCount": 200, "values": [-2,-1.5,-1,-0.5,0,0.5,1,1.5,2,2.5,3,3.5,4,4.5,5,5.5,6], "labelExpr": "datum.value % 2 == 0 ? format(datum.value, 'd') : ''"}},
    "detail": {"field": "s"}}},
  {"data": {"values": [{}]}, "mark": {"type": "rule", "color": "#555", "strokeWidth": 0.9}, "encoding": {"y": {"datum": 0, "type": "quantitative"}, "x": {"datum": 0, "type": "quantitative"}, "x2": {"datum": 1}}},
  {"data": {"values": [{}]}, "mark": {"type": "rule", "color": "#555", "strokeWidth": 0.9}, "encoding": {"x": {"datum": 0.5, "type": "quantitative"}, "y": {"datum": 6, "type": "quantitative"}, "y2": {"datum": -2}}},
  {"transform": [{"filter": "datum.k == 1"}], "mark": {"type": "point", "size": 60, "filled": true, "fill": "white", "stroke": "#111", "strokeWidth": 1.1, "opacity": 1},
   "encoding": {"x": {"field": "t", "type": "quantitative"}, "y": {"field": "v", "type": "quantitative"},
    "shape": {"field": "s", "type": "nominal", "scale": {"domain": ["m", "z", "p"], "range": ["triangle-up", "triangle-down", "diamond"]}, "legend": null}}}
 ]},
{"width": 333, "height": 190, "data": {"name": "e"}, "title": {"text": "(e)", "orient": "bottom"},
 "layer": [
  {"mark": {"type": "line", "interpolate": "monotone", "color": "#111", "strokeWidth": 1.3},
   "encoding": {"x": {"field": "t", "type": "quantitative", "scale": {"domain": [0, 1], "nice": false}, "axis": {"title": "t̂", "tickCount": 200, "values": [0,0.05,0.1,0.15,0.2,0.25,0.3,0.35,0.4,0.45,0.5,0.55,0.6,0.65,0.7,0.75,0.8,0.85,0.9,0.95,1], "labelExpr": "round(datum.value*20) % 4 == 0 ? format(datum.value, '.1f') : ''"}},
    "y": {"field": "v", "type": "quantitative", "scale": {"domain": [-8, 4], "range": [190, 39], "nice": false, "zero": false}, "axis": {"title": "M_x,R⁺", "tickCount": 200, "values": [-8,-7.5,-7,-6.5,-6,-5.5,-5,-4.5,-4,-3.5,-3,-2.5,-2,-1.5,-1,-0.5,0,0.5,1,1.5,2,2.5,3,3.5,4], "labelExpr": "datum.value % 2 == 0 ? format(datum.value, 'd') : ''"}},
    "detail": {"field": "s"}}},
  {"data": {"values": [{}]}, "mark": {"type": "rule", "color": "#555", "strokeWidth": 0.9}, "encoding": {"y": {"datum": 0, "type": "quantitative"}, "x": {"datum": 0, "type": "quantitative"}, "x2": {"datum": 1}}},
  {"data": {"values": [{}]}, "mark": {"type": "rule", "color": "#555", "strokeWidth": 0.9}, "encoding": {"x": {"datum": 0.5, "type": "quantitative"}, "y": {"datum": 4, "type": "quantitative"}, "y2": {"datum": -8}}},
  {"transform": [{"filter": "datum.k == 1"}], "mark": {"type": "point", "size": 60, "filled": true, "fill": "white", "stroke": "#111", "strokeWidth": 1.1, "opacity": 1},
   "encoding": {"x": {"field": "t", "type": "quantitative"}, "y": {"field": "v", "type": "quantitative"},
    "shape": {"field": "s", "type": "nominal", "scale": {"domain": ["m", "z", "p"], "range": ["triangle-up", "triangle-down", "diamond"]}, "legend": null}}}
 ]},
{"width": 333, "height": 190, "data": {"name": "f"}, "title": {"text": "(f)", "orient": "bottom"},
 "layer": [
  {"mark": {"type": "line", "interpolate": "monotone", "color": "#111", "strokeWidth": 1.3},
   "encoding": {"x": {"field": "t", "type": "quantitative", "scale": {"domain": [0, 1], "nice": false}, "axis": {"title": "t̂", "tickCount": 200, "values": [0,0.05,0.1,0.15,0.2,0.25,0.3,0.35,0.4,0.45,0.5,0.55,0.6,0.65,0.7,0.75,0.8,0.85,0.9,0.95,1], "labelExpr": "round(datum.value*20) % 4 == 0 ? format(datum.value, '.1f') : ''"}},
    "y": {"field": "v", "type": "quantitative", "scale": {"domain": [-10, 10], "nice": false, "zero": false}, "axis": {"title": "M_y,R⁺", "tickCount": 200, "values": [-10,-9.5,-9,-8.5,-8,-7.5,-7,-6.5,-6,-5.5,-5,-4.5,-4,-3.5,-3,-2.5,-2,-1.5,-1,-0.5,0,0.5,1,1.5,2,2.5,3,3.5,4,4.5,5,5.5,6,6.5,7,7.5,8,8.5,9,9.5,10], "labelExpr": "indexof([-10,-6,-2,0,2,6,10], datum.value) >= 0 ? format(datum.value, 'd') : ''"}},
    "detail": {"field": "s"}}},
  {"data": {"values": [{}]}, "mark": {"type": "rule", "color": "#555", "strokeWidth": 0.9}, "encoding": {"y": {"datum": 0, "type": "quantitative"}, "x": {"datum": 0, "type": "quantitative"}, "x2": {"datum": 1}}},
  {"data": {"values": [{}]}, "mark": {"type": "rule", "color": "#555", "strokeWidth": 0.9}, "encoding": {"x": {"datum": 0.5, "type": "quantitative"}, "y": {"datum": 10, "type": "quantitative"}, "y2": {"datum": -10}}},
  {"transform": [{"filter": "datum.k == 1"}], "mark": {"type": "point", "size": 60, "filled": true, "fill": "white", "stroke": "#111", "strokeWidth": 1.1, "opacity": 1},
   "encoding": {"x": {"field": "t", "type": "quantitative"}, "y": {"field": "v", "type": "quantitative"},
    "shape": {"field": "s", "type": "nominal", "scale": {"domain": ["m", "z", "p"], "range": ["triangle-up", "triangle-down", "diamond"]}, "legend": null}}}
 ]},
{"width": 333, "height": 199, "data": {"name": "g"}, "title": {"text": "(g)", "orient": "bottom", "dx": 233},
 "layer": [
  {"mark": {"type": "line", "interpolate": "monotone", "color": "#111", "strokeWidth": 1.3},
   "encoding": {"x": {"field": "t", "type": "quantitative", "scale": {"domain": [0, 1], "range": [233, 566], "nice": false}, "axis": {"title": "t̂", "tickCount": 200, "values": [0,0.05,0.1,0.15,0.2,0.25,0.3,0.35,0.4,0.45,0.5,0.55,0.6,0.65,0.7,0.75,0.8,0.85,0.9,0.95,1], "labelExpr": "round(datum.value*20) % 4 == 0 ? format(datum.value, '.1f') : ''"}},
    "y": {"field": "v", "type": "quantitative", "scale": {"domain": [-15, 15], "range": [199, 8], "nice": false, "zero": false}, "axis": {"title": "M_z,R⁺", "offset": -233, "tickCount": 200, "values": [-15,-14,-13,-12,-11,-10,-9,-8,-7,-6,-5,-4,-3,-2,-1,0,1,2,3,4,5,6,7,8,9,10,11,12,13,14,15], "labelExpr": "datum.value % 5 == 0 ? format(datum.value, 'd') : ''"}},
    "detail": {"field": "s"}}},
  {"data": {"values": [{}]}, "mark": {"type": "rule", "color": "#555", "strokeWidth": 0.9}, "encoding": {"y": {"datum": 0, "type": "quantitative"}, "x": {"datum": 0, "type": "quantitative"}, "x2": {"datum": 1}}},
  {"data": {"values": [{}]}, "mark": {"type": "rule", "color": "#555", "strokeWidth": 0.9}, "encoding": {"x": {"datum": 0.5, "type": "quantitative"}, "y": {"datum": 15, "type": "quantitative"}, "y2": {"datum": -15}}},
  {"transform": [{"filter": "datum.k == 1"}], "mark": {"type": "point", "size": 60, "filled": true, "fill": "white", "stroke": "#111", "strokeWidth": 1.1, "opacity": 1},
   "encoding": {"x": {"field": "t", "type": "quantitative"}, "y": {"field": "v", "type": "quantitative"},
    "shape": {"field": "s", "type": "nominal", "scale": {"domain": ["m", "z", "p"], "range": ["triangle-up", "triangle-down", "diamond"]}, "legend": null}}}
 ]}
],
"config": {
 "view": {"stroke": null},
 "font": "Liberation Serif",
 "axis": {"labelFont": "Liberation Serif", "labelFontSize": 17, "labelColor": "#1a1a1a", "titleFont": "Liberation Serif", "titleFontSize": 19, "titleFontWeight": "normal", "titleFontStyle": "italic", "titleColor": "#1a1a1a", "domainColor": "#1a1a1a", "domainWidth": 1, "tickColor": "#1a1a1a", "tickWidth": 1, "tickSize": -4, "labelPadding": 9, "grid": false, "labelOverlap": false, "labelFlush": false},
 "axisX": {"titlePadding": 4},
 "axisY": {"titlePadding": 6},
 "title": {"font": "Liberation Serif", "fontSize": 18, "fontWeight": "normal", "color": "#1a1a1a", "offset": 5}
}
}
